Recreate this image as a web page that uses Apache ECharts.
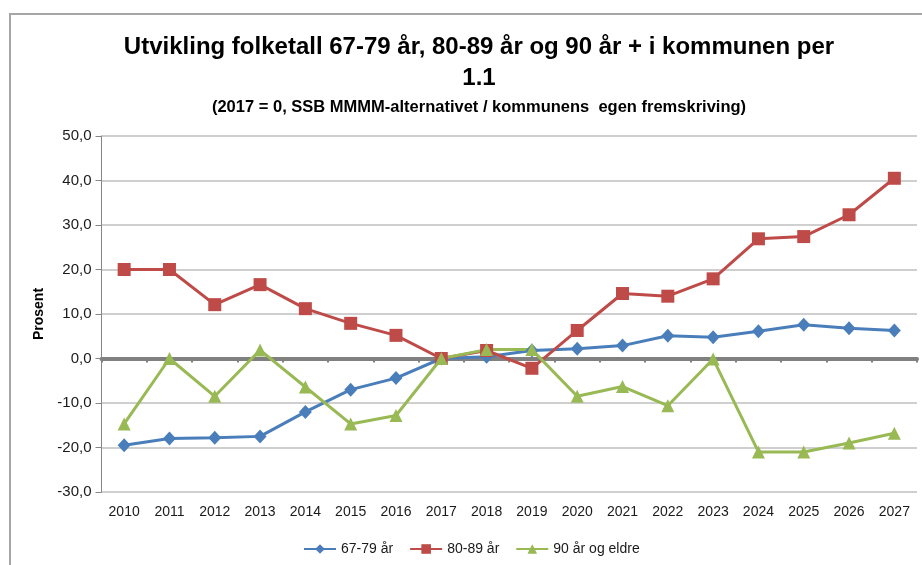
<!DOCTYPE html>
<html>
<head>
<meta charset="utf-8">
<script src="https://cdn.jsdelivr.net/npm/echarts@6/dist/echarts.min.js"></script>
<style>
  html, body { margin: 0; padding: 0; background: #fff; }
  #chart { width: 922px; height: 565px; }
</style>
</head>
<body>
<div id="chart"></div>
<script>
const years = ["2010", "2011", "2012", "2013", "2014", "2015", "2016", "2017", "2018",
  "2019", "2020", "2021", "2022", "2023", "2024", "2025", "2026", "2027"];
const age67to79 = [-19.5, -18.0, -17.8, -17.5, -12.0, -7.0, -4.4, 0.0, 0.4,
  1.8, 2.2, 2.9, 5.1, 4.8, 6.1, 7.6, 6.8, 6.3];
const age80to89 = [20.0, 20.0, 12.1, 16.6, 11.2, 7.9, 5.2, 0.0, 1.8,
  -2.2, 6.3, 14.6, 14.0, 17.9, 26.9, 27.4, 32.3, 40.5];
const age90plus = [-14.7, 0.0, -8.5, 1.9, -6.4, -14.7, -12.8, 0.0, 2.0,
  2.0, -8.5, -6.3, -10.6, -0.1, -21.0, -21.0, -19.0, -16.8];

const font = "'Liberation Sans', sans-serif";
const textColor = "#1a1a1a";

const chart = echarts.init(document.getElementById("chart"));

chart.setOption({
  animation: false,
  textStyle: { fontFamily: font },
  graphic: [{
    type: "rect",
    shape: { x: 10, y: 14, width: 1000, height: 700 },
    style: { fill: "none", stroke: "#a6a6a6", lineWidth: 2 },
    silent: true
  }],
  title: [
    {
      text: "Utvikling folketall 67-79 år, 80-89 år og 90 år + i kommunen per",
      left: 474, top: 30, textAlign: "center",
      textStyle: { fontFamily: font, fontSize: 24, fontWeight: "bold", color: "#000" }
    },
    {
      text: "1.1",
      left: 474, top: 61, textAlign: "center",
      textStyle: { fontFamily: font, fontSize: 24, fontWeight: "bold", color: "#000" }
    },
    {
      text: "(2017 = 0, SSB MMMM-alternativet / kommunens  egen fremskriving)",
      left: 474, top: 94, textAlign: "center",
      textStyle: { fontFamily: font, fontSize: 16.5, fontWeight: "bold", color: "#000" }
    }
  ],
  legend: {
    left: 298, top: 537,
    itemWidth: 32, itemHeight: 12, itemGap: 16,
    textStyle: { fontFamily: font, fontSize: 14, color: textColor },
    data: ["67-79 år", "80-89 år", "90 år og eldre"]
  },
  grid: { left: 101.5, right: 5, top: 136, bottom: 73, containLabel: false },
  xAxis: [
    {
      type: "category",
      data: years,
      position: "bottom",
      axisLine: { show: false, onZero: false },
      axisTick: { show: false },
      splitLine: { show: false },
      axisLabel: { margin: 13, fontSize: 14, color: textColor, fontFamily: font }
    },
    {
      type: "category",
      data: years,
      position: "bottom",
      axisLine: { show: true, onZero: true, lineStyle: { color: "#808080", width: 4 } },
      axisTick: { show: true, length: 4, lineStyle: { color: "#808080", width: 2 } },
      axisLabel: { show: false },
      splitLine: { show: false }
    }
  ],
  yAxis: {
    type: "value",
    min: -30, max: 50, interval: 10,
    name: "Prosent",
    nameLocation: "middle",
    nameGap: 48,
    nameTextStyle: { fontFamily: font, fontSize: 14, fontWeight: "bold", color: "#000" },
    axisLine: { show: true, lineStyle: { color: "#868686", width: 1 } },
    axisTick: { show: true, length: 6, lineStyle: { color: "#868686" } },
    axisLabel: {
      fontSize: 15, color: textColor, fontFamily: font, margin: 10,
      formatter: (v) => v.toFixed(1).replace(".", ",")
    },
    splitLine: { show: true, lineStyle: { color: "#bfbfbf", width: 1.5 } }
  },
  series: [
    {
      name: "67-79 år", type: "line", data: age67to79,
      symbol: "diamond", symbolSize: [13, 14],
      itemStyle: { color: "#4a7ebb" },
      lineStyle: { color: "#4a7ebb", width: 3 }
    },
    {
      name: "80-89 år", type: "line", data: age80to89,
      symbol: "rect", symbolSize: 13,
      itemStyle: { color: "#be4b48" },
      lineStyle: { color: "#be4b48", width: 3 }
    },
    {
      name: "90 år og eldre", type: "line", data: age90plus,
      symbol: "triangle", symbolSize: 13,
      itemStyle: { color: "#98b954" },
      lineStyle: { color: "#98b954", width: 3 }
    }
  ]
});
</script>
</body>
</html>
